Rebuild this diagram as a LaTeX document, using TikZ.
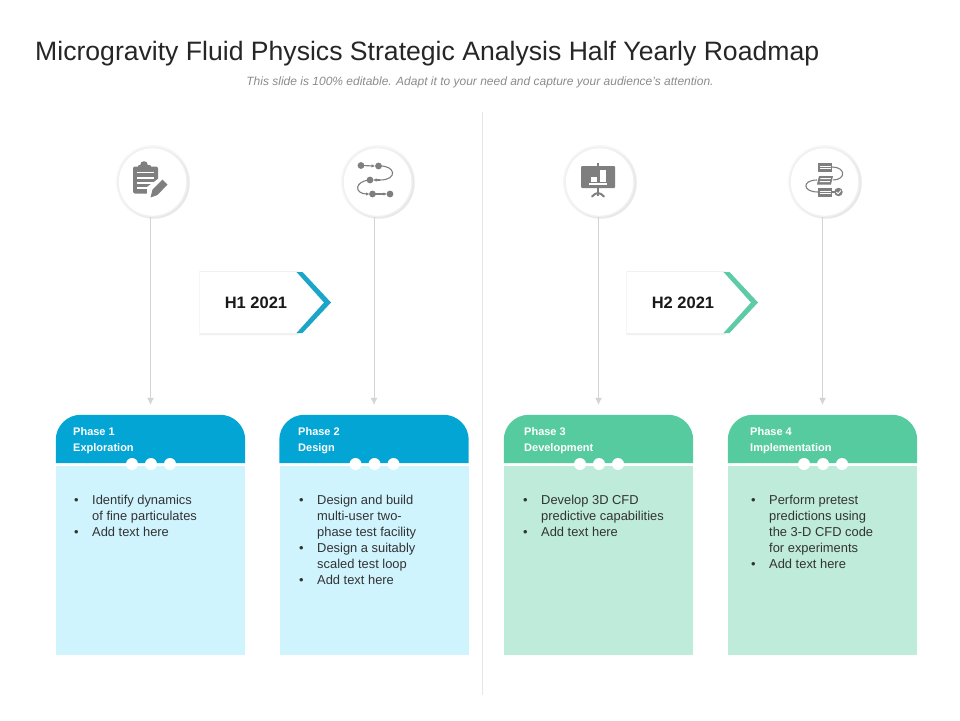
\documentclass[tikz,border=0pt]{standalone}
\usepackage{fontspec}
\setmainfont{Liberation Sans}
\usetikzlibrary{arrows.meta}
\definecolor{cblue}{HTML}{02A5D3}
\definecolor{lblue}{HTML}{CFF4FE}
\definecolor{cgreen}{HTML}{57CBA0}
\definecolor{lgreen}{HTML}{BEEBDA}
\definecolor{chevb}{HTML}{1BA6C9}
\definecolor{cheg}{HTML}{5CCBA6}
\definecolor{icon}{HTML}{7F7F7F}
\definecolor{rule}{HTML}{D4D4D4}
\tikzset{
  titletext/.style={anchor=west,inner sep=0,font=\fontsize{26.6}{30}\selectfont,text=black!85},
  subtext/.style={inner sep=0,font=\fontsize{12}{14}\itshape\selectfont,text=black!45},
  disc/.style={circle,fill=white,draw=black!6,line width=1.4pt,minimum size=69pt,inner sep=0},
  halo/.style={fill=black!3,draw=none},
  halob/.style={fill=black!9,draw=none},
  link/.style={draw=rule,line width=.8pt,-{Latex[length=7pt,width=7pt]},shorten >=10pt},
  head/.style={minimum width=189pt,minimum height=48pt,inner sep=0},
  bodybox/.style={minimum width=189pt,minimum height=189pt,inner sep=0},
  headtext/.style={anchor=north west,inner sep=0,align=left,text=white,font=\fontsize{11}{16}\bfseries\selectfont},
  bodytext/.style={anchor=north west,inner sep=0,align=left,text=black!80,font=\fontsize{12.9}{16}\selectfont},
  dot/.style={circle,fill=white,minimum size=12pt,inner sep=0},
  tagbox/.style={minimum width=97pt,minimum height=61pt,inner sep=0},
  tagtext/.style={inner sep=0,font=\fontsize{16.5}{20}\bfseries\selectfont,text=black!90},
  ic/.style={fill=icon,draw=none},
  icl/.style={draw=icon,line width=1.1pt,fill=none},
  ica/.style={draw=icon,line width=1.1pt,-{Latex[length=3.5pt,width=3.5pt]}},
}
\newcommand{\bl}{\makebox[18pt][l]{•}}
\newcommand{\cardmk}[8]{% id, left x, fill, light, headtext, bullet x, body, header text x
  \node[head] (h#1) at (#2+94.5,439) {};
  \fill[#3,rounded corners=25pt] (h#1.south west) -- (h#1.north west) -- (h#1.north east) -- (h#1.south east);
  \node[bodybox,fill=#4] (b#1) at (#2+94.5,560.5) {};
  \node[dot] (da#1) at (#2+76,464) {};
  \node[dot] (db#1) at (#2+95,464) {};
  \node[dot] (dc#1) at (#2+114,464) {};
  \node[headtext] (ht#1) at (#8,427.5) {#5};
  \node[bodytext] (bt#1) at (#6,494.5) {#7};
}
\newcommand{\discmk}[3]{% id, x, line x card
  \fill[halo] (#2,182) circle (37);
  \fill[halob] (#2+1,183) circle (35.5);
  \node[disc] (c#1) at (#2-.5,182) {};
}
\newcommand{\tagmk}[4]{% id, left x, colour, text
  \fill[black!6] (#2-.7,271) -- (#2+98,271) -- (#2+127,303.5) -- (#2+98,335) -- (#2-.7,335) -- cycle;
  \node[tagbox] (t#1) at (#2+48.5,302.5) {};
  \fill[white] (t#1.north west) -- (t#1.north east) -- (#2+124,302.5) -- (t#1.south east) -- (t#1.south west) -- cycle;
  \fill[#3] (#2+96.5,272) -- (#2+102.5,272) -- (#2+131,302.5) -- (#2+102.5,333) -- (#2+96.5,333) -- (#2+124,302.5) -- cycle;
  \node[tagtext] (tt#1) at (#2+56,303) {#4};
}
\begin{document}
\begin{tikzpicture}[x=1pt,y=-1pt]
\useasboundingbox (0,0) rectangle (960,720);
\fill[white] (0,0) rectangle (960,720);
\node[titletext] (title) at (35,54) {Microgravity Fluid Physics Strategic Analysis Half Yearly Roadmap};
\node[subtext] (sub) at (480,82.5) {This slide is 100\% editable. Adapt it to your need and capture your audience’s attention.};
\coordinate (divt) at (482,112);
\coordinate (divb) at (482,695);
\draw[black!10,line width=.8pt] (divt) -- (divb);

\cardmk{1}{56}{cblue}{lblue}{Phase 1\\Exploration}{74}{\bl Identify dynamics\\\hspace*{18pt}of fine particulates\\\bl Add text here}{73}
\cardmk{2}{279.5}{cblue}{lblue}{Phase 2\\Design}{299}{\bl Design and build\\\hspace*{18pt}multi-user two-\\\hspace*{18pt}phase test facility\\\bl Design a suitably\\\hspace*{18pt}scaled test loop\\\bl Add text here}{298}
\cardmk{3}{504}{cgreen}{lgreen}{Phase 3\\Development}{523}{\bl Develop 3D CFD\\\hspace*{18pt}predictive capabilities\\\bl Add text here}{524}
\cardmk{4}{728}{cgreen}{lgreen}{Phase 4\\Implementation}{751}{\bl Perform pretest\\\hspace*{18pt}predictions using\\\hspace*{18pt}the 3-D CFD code\\\hspace*{18pt}for experiments\\\bl Add text here}{750}

\discmk{1}{153}{}
\discmk{2}{378}{}
\discmk{3}{600}{}
\discmk{4}{825}{}
\draw[link] (h1.north |- c1.south) -- (h1.north);
\draw[link] (h2.north |- c2.south) -- (h2.north);
\draw[link] (h3.north |- c3.south) -- (h3.north);
\draw[link] (h4.north |- c4.south) -- (h4.north);

\tagmk{1}{200}{chevb}{H1 2021}
\tagmk{2}{627}{cheg}{H2 2021}

% icon 1: clipboard and pencil
\fill[ic,rounded corners=2pt] (133,166.5) rectangle (158,193.5);
\fill[ic] (144,165) circle (3.8);
\fill[ic,rounded corners=1pt] (138,165) rectangle (151,172);
\fill[white] (137,172) rectangle (154,173);
\fill[white] (137,176.5) rectangle (154,178.5);
\fill[white] (137,181.5) rectangle (153,183.5);
\fill[white] (137,186.5) rectangle (149,188.5);
\fill[white] (147,198) -- (147,187) -- (162,176) -- (172,185) -- (158,199) -- cycle;
\fill[ic] (150.5,197.5) -- (152.5,189.5) -- (162.5,179.5) -- (167.5,184.5) -- (157.5,195) -- cycle;

% icon 2: roadmap dots
\fill[ic] (361,165.5) circle (3.4);
\fill[ic] (378.5,166) circle (3.4);
\fill[ic] (370,180) circle (3.4);
\fill[ic] (372.5,194) circle (3.4);
\fill[ic] (390,194) circle (3.4);
\draw[ica] (361,165.5) -- (375,166);
\draw[icl] (378.5,166) .. controls (396,165) and (398,180) .. (380,180);
\draw[ica] (380,180) -- (373,180);
\draw[icl] (370,180) .. controls (354,181) and (354,194) .. (367,194);
\draw[ica] (366,194) -- (369.5,194);
\draw[ica] (372.5,194) -- (387,194);

% icon 3: presentation board
\fill[ic,rounded corners=1pt] (581,166) rectangle (615,188);
\fill[ic] (597,163) rectangle (599,167);
\fill[white] (591,176.5) rectangle (597,182);
\fill[white] (600,170) rectangle (606,182);
\fill[white] (589,183) rectangle (607,185);
\draw[icon,line width=2pt] (598,188) -- (598,196);
\draw[icon,line width=2pt,line cap=round] (592,196.5) .. controls (594,194) and (596,193.5) .. (598,193) .. controls (600,193.5) and (602,194) .. (604,196.5);

% icon 4: flow with check
\draw[icl] (832,167) .. controls (846,167) and (846,180) .. (833,180);
\draw[icl] (817,180) .. controls (802,180) and (802,192) .. (818,192);
\draw[icl] (832,192) -- (836,192);
\fill[ic] (818,163) rectangle (832,171.5);
\fill[white] (819.5,165.5) rectangle (830.5,166.7);
\fill[white] (819.5,168) rectangle (830.5,169.2);
\fill[ic] (819,176) -- (833,176) -- (831,184.5) -- (817,184.5) -- cycle;
\fill[white] (820.5,178) -- (830.8,178) -- (830.5,179.2) -- (820.2,179.2) -- cycle;
\fill[white] (819.8,181) -- (830,181) -- (829.7,182.2) -- (819.5,182.2) -- cycle;
\fill[ic] (818,188) rectangle (832,196.5);
\fill[white] (819.5,190.5) rectangle (830.5,191.7);
\fill[white] (819.5,193) rectangle (830.5,194.2);
\fill[ic] (838.5,192) circle (4.2);
\draw[white,line width=.9pt] (836.3,192) -- (838,193.8) -- (841,190.5);
\end{tikzpicture}
\end{document}
